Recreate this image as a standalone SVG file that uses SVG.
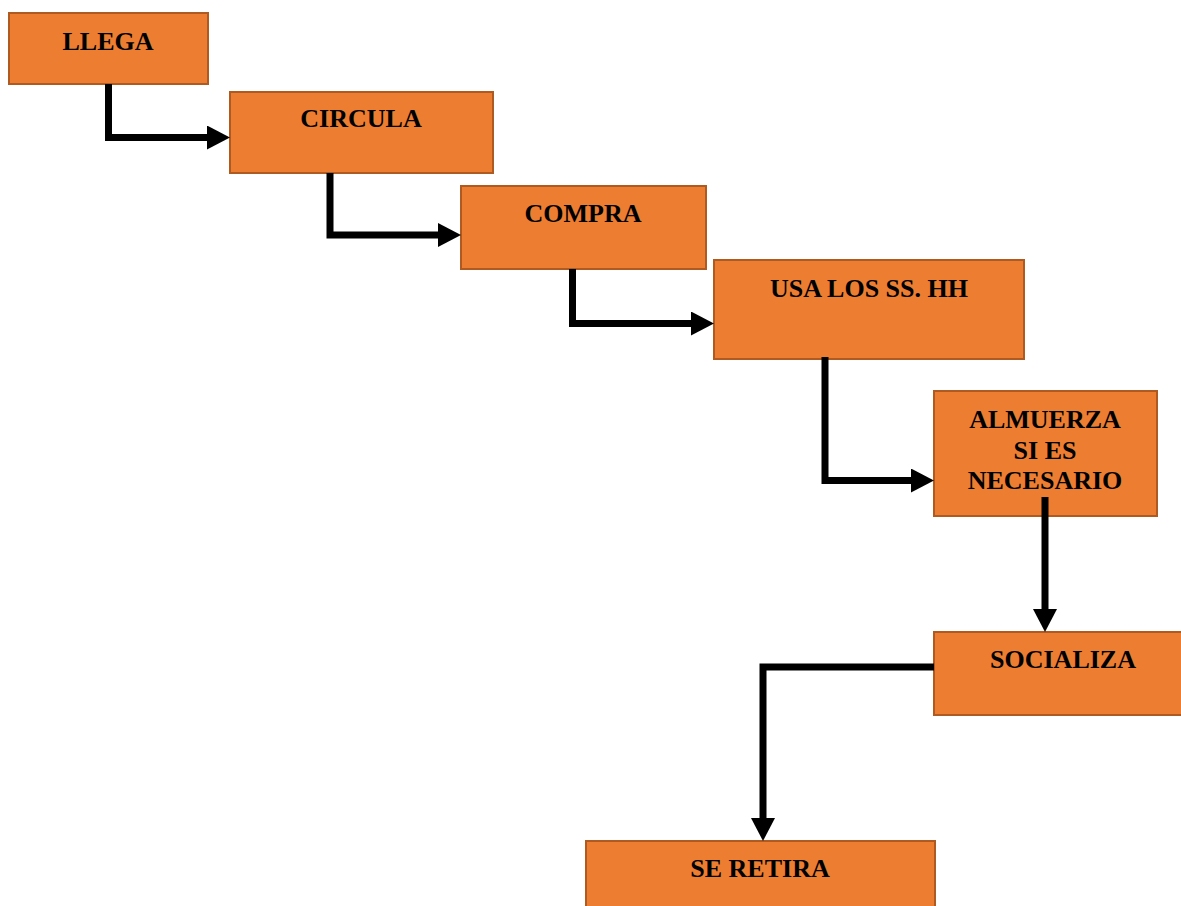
<svg xmlns="http://www.w3.org/2000/svg" width="1181" height="906" viewBox="0 0 1181 906">
<style>
.box{fill:#ED7D31;stroke:#AE5A21;stroke-width:2}
.lbl{font-family:"Liberation Serif","Times New Roman",serif;font-weight:bold;font-size:26px;fill:#000;text-anchor:middle}
.con{fill:none;stroke:#000;stroke-width:7;stroke-linejoin:miter}
</style>
<defs>
<marker id="ah" markerUnits="userSpaceOnUse" markerWidth="26" markerHeight="26" refX="7" refY="12" orient="auto">
<path d="M0,0 L23,12 L0,24 Z" fill="#000"/>
</marker>
</defs>
<rect width="1181" height="906" fill="#fff"/>
<g id="n1"><rect class="box" x="9" y="13" width="199" height="71"/><text class="lbl" x="108" y="50">LLEGA</text></g>
<g id="n2"><rect class="box" x="230" y="92" width="263" height="81"/><text class="lbl" x="361" y="127">CIRCULA</text></g>
<g id="n3"><rect class="box" x="461" y="186" width="245" height="83"/><text class="lbl" x="583" y="222">COMPRA</text></g>
<g id="n4"><rect class="box" x="714" y="260" width="310" height="99"/><text class="lbl" x="869" y="297">USA LOS SS. HH</text></g>
<g id="n5"><rect class="box" x="934" y="391" width="223" height="125"/><text class="lbl" x="1045" y="428">ALMUERZA</text><text class="lbl" x="1045" y="459">SI ES</text><text class="lbl" x="1045" y="489">NECESARIO</text></g>
<g id="n6"><rect class="box" x="934" y="632" width="250" height="83"/><text class="lbl" x="1063" y="668">SOCIALIZA</text></g>
<g id="n7"><rect class="box" x="586" y="841" width="349" height="70"/><text class="lbl" x="760" y="877">SE RETIRA</text></g>
<g id="connectors">
<path class="con" d="M108.5,84 V137.5 H214" marker-end="url(#ah)"/>
<path class="con" d="M330,173 V235 H445" marker-end="url(#ah)"/>
<path class="con" d="M572.5,269 V323.5 H698" marker-end="url(#ah)"/>
<path class="con" d="M825,357 V480.5 H918" marker-end="url(#ah)"/>
<path class="con" d="M1045,497 V616" marker-end="url(#ah)"/>
<path class="con" d="M934,667 H763 V825" marker-end="url(#ah)"/>
</g>
</svg>
